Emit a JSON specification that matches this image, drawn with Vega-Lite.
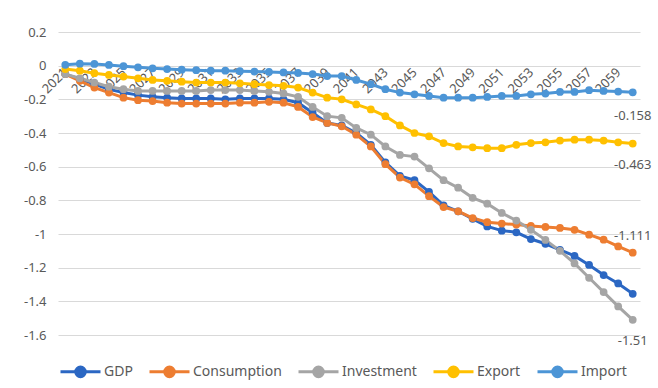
{
  "$schema": "https://vega.github.io/schema/vega-lite/v6.json",
  "width": 582,
  "height": 303,
  "autosize": {"type": "none"},
  "padding": {"left": 58, "top": 32, "right": 18, "bottom": 53},
  "background": "white",
  "data": {
    "values": [
      {"year": 2021, "GDP": -0.05, "Consumption": -0.05, "Investment": -0.05, "Export": -0.02, "Import": 0.005},
      {"year": 2022, "GDP": -0.08, "Consumption": -0.09, "Investment": -0.075, "Export": -0.03, "Import": 0.012},
      {"year": 2023, "GDP": -0.11, "Consumption": -0.13, "Investment": -0.1, "Export": -0.045, "Import": 0.01},
      {"year": 2024, "GDP": -0.14, "Consumption": -0.16, "Investment": -0.125, "Export": -0.055, "Import": 0.004},
      {"year": 2025, "GDP": -0.16, "Consumption": -0.19, "Investment": -0.14, "Export": -0.065, "Import": -0.003},
      {"year": 2026, "GDP": -0.175, "Consumption": -0.205, "Investment": -0.15, "Export": -0.075, "Import": -0.01},
      {"year": 2027, "GDP": -0.185, "Consumption": -0.21, "Investment": -0.15, "Export": -0.085, "Import": -0.016},
      {"year": 2028, "GDP": -0.19, "Consumption": -0.22, "Investment": -0.15, "Export": -0.09, "Import": -0.02},
      {"year": 2029, "GDP": -0.195, "Consumption": -0.225, "Investment": -0.15, "Export": -0.095, "Import": -0.024},
      {"year": 2030, "GDP": -0.195, "Consumption": -0.225, "Investment": -0.15, "Export": -0.1, "Import": -0.027},
      {"year": 2031, "GDP": -0.195, "Consumption": -0.225, "Investment": -0.145, "Export": -0.1, "Import": -0.03},
      {"year": 2032, "GDP": -0.2, "Consumption": -0.225, "Investment": -0.145, "Export": -0.1, "Import": -0.03},
      {"year": 2033, "GDP": -0.195, "Consumption": -0.22, "Investment": -0.145, "Export": -0.105, "Import": -0.033},
      {"year": 2034, "GDP": -0.195, "Consumption": -0.22, "Investment": -0.15, "Export": -0.11, "Import": -0.035},
      {"year": 2035, "GDP": -0.195, "Consumption": -0.215, "Investment": -0.155, "Export": -0.115, "Import": -0.037},
      {"year": 2036, "GDP": -0.2, "Consumption": -0.22, "Investment": -0.165, "Export": -0.12, "Import": -0.04},
      {"year": 2037, "GDP": -0.22, "Consumption": -0.245, "Investment": -0.185, "Export": -0.13, "Import": -0.043},
      {"year": 2038, "GDP": -0.28, "Consumption": -0.305, "Investment": -0.245, "Export": -0.16, "Import": -0.05},
      {"year": 2039, "GDP": -0.34, "Consumption": -0.34, "Investment": -0.3, "Export": -0.19, "Import": -0.062},
      {"year": 2040, "GDP": -0.355, "Consumption": -0.36, "Investment": -0.31, "Export": -0.2, "Import": -0.062},
      {"year": 2041, "GDP": -0.4, "Consumption": -0.41, "Investment": -0.37, "Export": -0.23, "Import": -0.085},
      {"year": 2042, "GDP": -0.47, "Consumption": -0.48, "Investment": -0.41, "Export": -0.26, "Import": -0.11},
      {"year": 2043, "GDP": -0.575, "Consumption": -0.585, "Investment": -0.48, "Export": -0.3, "Import": -0.14},
      {"year": 2044, "GDP": -0.655, "Consumption": -0.665, "Investment": -0.53, "Export": -0.355, "Import": -0.16},
      {"year": 2045, "GDP": -0.68, "Consumption": -0.705, "Investment": -0.54, "Export": -0.4, "Import": -0.17},
      {"year": 2046, "GDP": -0.75, "Consumption": -0.775, "Investment": -0.61, "Export": -0.42, "Import": -0.18},
      {"year": 2047, "GDP": -0.83, "Consumption": -0.84, "Investment": -0.68, "Export": -0.46, "Import": -0.19},
      {"year": 2048, "GDP": -0.865, "Consumption": -0.865, "Investment": -0.725, "Export": -0.48, "Import": -0.19},
      {"year": 2049, "GDP": -0.91, "Consumption": -0.905, "Investment": -0.785, "Export": -0.485, "Import": -0.19},
      {"year": 2050, "GDP": -0.955, "Consumption": -0.93, "Investment": -0.82, "Export": -0.49, "Import": -0.186},
      {"year": 2051, "GDP": -0.98, "Consumption": -0.938, "Investment": -0.875, "Export": -0.49, "Import": -0.18},
      {"year": 2052, "GDP": -0.99, "Consumption": -0.944, "Investment": -0.92, "Export": -0.47, "Import": -0.18},
      {"year": 2053, "GDP": -1.03, "Consumption": -0.952, "Investment": -0.975, "Export": -0.46, "Import": -0.17},
      {"year": 2054, "GDP": -1.058, "Consumption": -0.958, "Investment": -1.035, "Export": -0.455, "Import": -0.166},
      {"year": 2055, "GDP": -1.094, "Consumption": -0.964, "Investment": -1.1, "Export": -0.445, "Import": -0.156},
      {"year": 2056, "GDP": -1.13, "Consumption": -0.975, "Investment": -1.175, "Export": -0.44, "Import": -0.156},
      {"year": 2057, "GDP": -1.184, "Consumption": -1.004, "Investment": -1.26, "Export": -0.44, "Import": -0.146},
      {"year": 2058, "GDP": -1.244, "Consumption": -1.034, "Investment": -1.345, "Export": -0.445, "Import": -0.15},
      {"year": 2059, "GDP": -1.294, "Consumption": -1.074, "Investment": -1.43, "Export": -0.455, "Import": -0.154},
      {"year": 2060, "GDP": -1.355, "Consumption": -1.111, "Investment": -1.51, "Export": -0.463, "Import": -0.158}
    ]
  },
  "transform": [
    {"fold": ["GDP", "Consumption", "Investment", "Export", "Import"], "as": ["series", "value"]}
  ],
  "encoding": {
    "x": {
      "field": "year",
      "type": "ordinal",
      "scale": {"type": "point", "padding": 0.5},
      "axis": {
        "title": null,
        "orient": "bottom",
        "offset": -269,
        "values": [2021, 2023, 2025, 2027, 2029, 2031, 2033, 2035, 2037, 2039, 2041, 2043, 2045, 2047, 2049, 2051, 2053, 2055, 2057, 2059],
        "labelAngle": -45,
        "labelAlign": "right",
        "labelBaseline": "middle",
        "labelPadding": 4,
        "labelFontSize": 13,
        "labelColor": "#595959",
        "labelOverlap": false,
        "domain": false,
        "ticks": false,
        "grid": false
      }
    },
    "y": {
      "field": "value",
      "type": "quantitative",
      "scale": {"domain": [-1.6, 0.2], "nice": false, "zero": false},
      "axis": {
        "title": null,
        "values": [0.2, 0, -0.2, -0.4, -0.6, -0.8, -1, -1.2, -1.4, -1.6],
        "labelExpr": "replace(format(datum.value, '~g'), '\u2212', '-')",
        "labelFontSize": 13,
        "labelColor": "#595959",
        "labelPadding": 12,
        "domain": false,
        "ticks": false,
        "grid": true,
        "gridColor": "#D9D9D9",
        "gridWidth": 1
      }
    },
    "color": {
      "field": "series",
      "type": "nominal",
      "scale": {
        "domain": ["GDP", "Consumption", "Investment", "Export", "Import"],
        "range": ["#2B67C3", "#ED7D31", "#A5A5A5", "#FFC000", "#4C95D6"]
      },
      "legend": {
        "title": null,
        "orient": "none",
        "legendX": 1,
        "legendY": 318,
        "direction": "horizontal",
        "symbolType": "M-1,0H1M-0.24,0A0.24,0.24 0 1 1 0.24,0A0.24,0.24 0 1 1 -0.24,0Z",
        "symbolSize": 1600,
        "symbolStrokeWidth": 3,
        "labelFontSize": 14,
        "labelColor": "#595959",
        "labelOffset": 2,
        "columnPadding": 10,
        "encode": {
          "symbols": {
            "update": {
              "fill": {"scale": "color", "field": "value"},
              "stroke": {"scale": "color", "field": "value"},
              "opacity": {"value": 1}
            }
          }
        }
      }
    }
  },
  "layer": [
    {"mark": {"type": "line", "strokeWidth": 3}},
    {"mark": {"type": "point", "filled": true, "size": 60, "opacity": 1}},
    {
      "transform": [{"filter": "datum.year == 2060 && datum.series == 'Import'"}],
      "mark": {"type": "text", "dy": 24, "fontSize": 13, "color": "#595959"},
      "encoding": {"text": {"field": "value", "type": "nominal"}, "color": {"value": "#595959"}}
    },
    {
      "transform": [{"filter": "datum.year == 2060 && (datum.series == 'Export' || datum.series == 'Investment')"}],
      "mark": {"type": "text", "dy": 21, "fontSize": 13, "color": "#595959"},
      "encoding": {"text": {"field": "value", "type": "nominal"}, "color": {"value": "#595959"}}
    },
    {
      "transform": [{"filter": "datum.year == 2060 && datum.series == 'Consumption'"}],
      "mark": {"type": "text", "dy": -17, "fontSize": 13, "color": "#595959"},
      "encoding": {"text": {"field": "value", "type": "nominal"}, "color": {"value": "#595959"}}
    }
  ],
  "config": {
    "view": {"stroke": null},
    "font": "Noto Sans"
  }
}
